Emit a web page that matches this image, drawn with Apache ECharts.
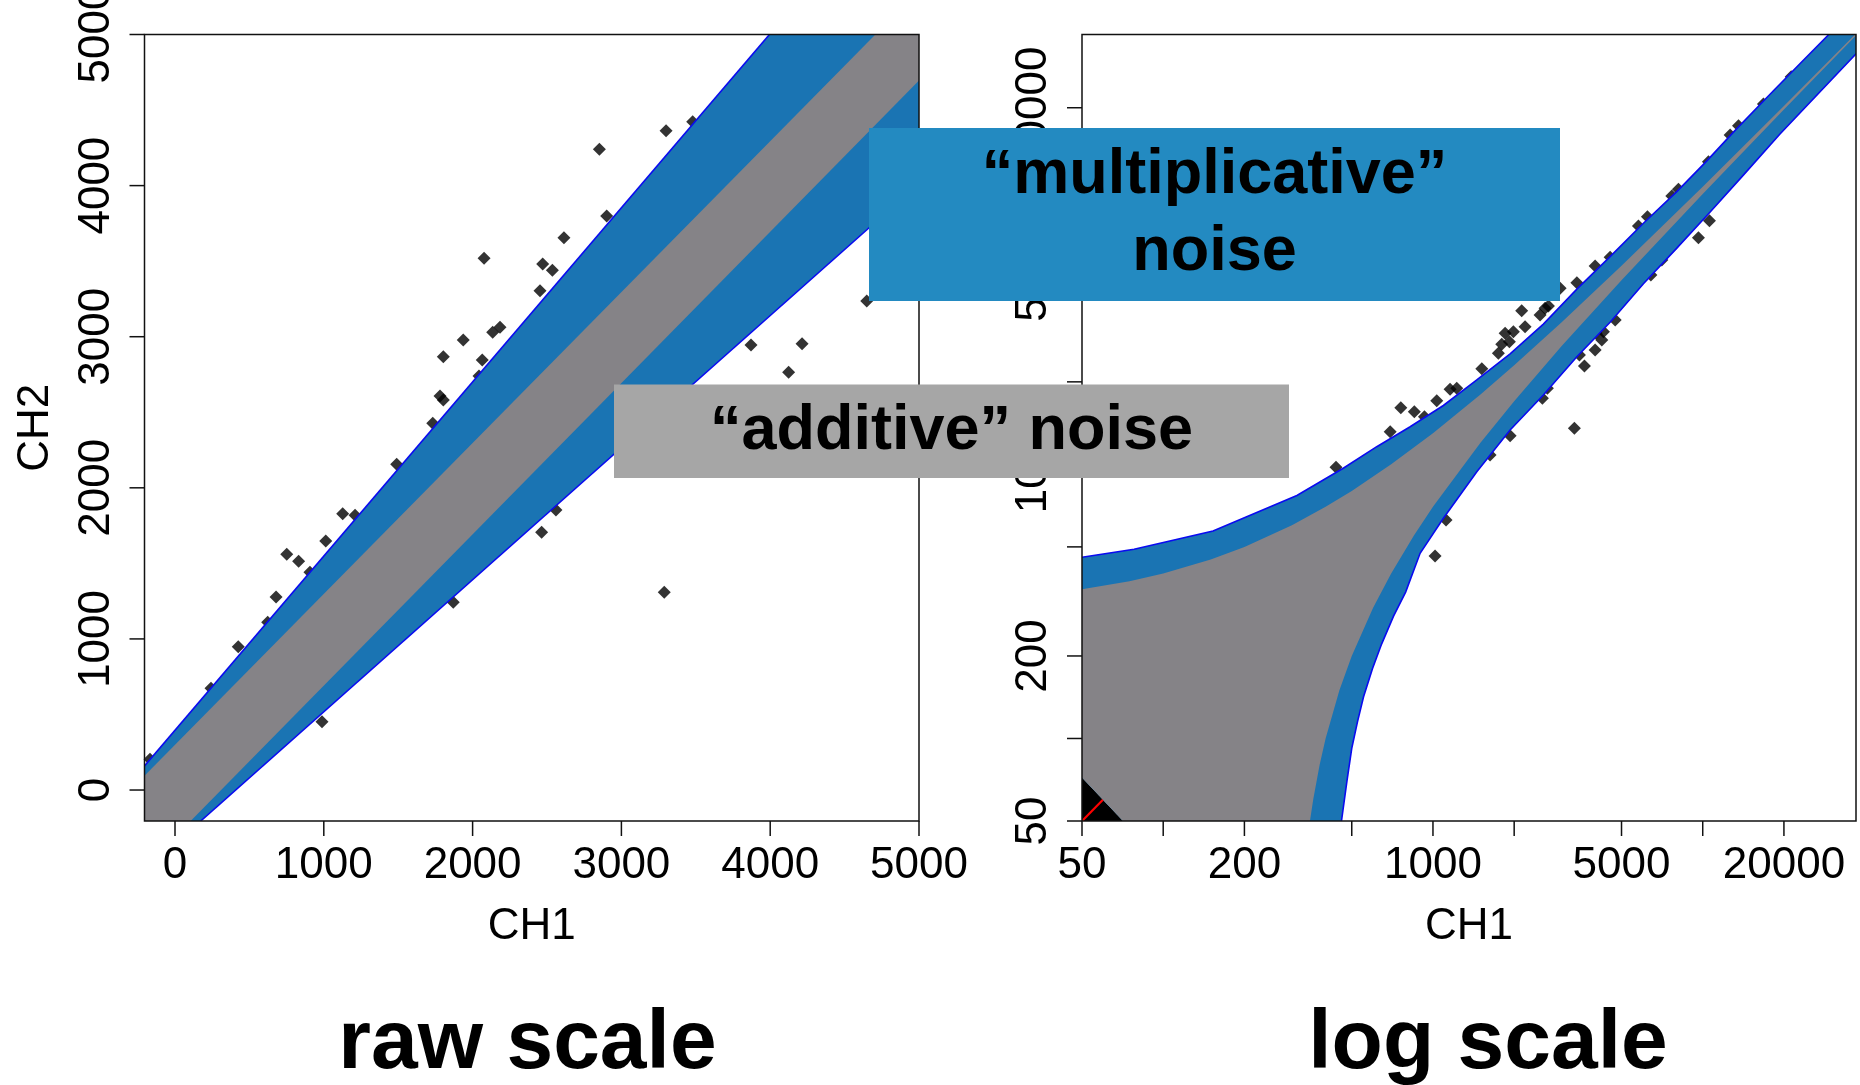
<!DOCTYPE html>
<html>
<head>
<meta charset="utf-8">
<script src="https://cdn.jsdelivr.net/npm/echarts@6/dist/echarts.min.js"></script>
<style>
  html, body { margin: 0; padding: 0; background: #ffffff; }
  #chart { width: 1860px; height: 1085px; }
</style>
</head>
<body>
<div id="chart"></div>
<script>
// ---------- data ----------
const rawRange = [-205, 5000];
const logRange = [50, 37000];
const rawTicks = [0, 1000, 2000, 3000, 4000, 5000];
const logTicks = [50, 100, 200, 500, 1000, 2000, 5000, 10000, 20000];
const logTickLabels = [50, 200, 1000, 5000, 20000];

// spots (CH1, CH2) on the raw scale
const rawPoints = [
  [-168, 203], [242, 673], [425, 948], [623, 1110], [679, 1277], [751, 1560], [831, 1514],
  [907, 1441], [1013, 1648], [1127, 1829], [1210, 1818], [988, 452], [1870, 1242],
  [2464, 1706], [2560, 1853], [1490, 2156], [1732, 2427], [1781, 2608], [1803, 2581],
  [2043, 2740], [2065, 2846], [1803, 2868], [1937, 2978], [2135, 3029], [2184, 3062],
  [2453, 3304], [2471, 3481], [2536, 3439], [2077, 3519], [2614, 3655], [2901, 3799],
  [2852, 4240], [3300, 4363], [3479, 4423], [4649, 3236], [3871, 2945], [4214, 2954],
  [4124, 2764], [3288, 1309]
];

// spots (CH1, CH2) on the log scale
const logPoints = [
  [437, 976], [694, 1316], [760, 1610], [853, 1557], [930, 1492], [1033, 1707], [1157, 1879],
  [1225, 1895], [1517, 2234], [1748, 2542], [1799, 2742], [1851, 3007], [1987, 3049],
  [2133, 3637], [2195, 3180], [2495, 3508], [2604, 3710], [2679, 3783], [1920, 2803],
  [2960, 4389], [3415, 4602], [3991, 5296], [4537, 5697], [5777, 7408], [6237, 8012],
  [7683, 9528], [8128, 10080],
  [1018, 463], [1932, 1272], [3344, 1354], [2545, 1742], [2656, 1895], [3491, 2507],
  [3643, 2286], [3991, 2614], [4226, 2843], [4285, 3049], [4024, 3007], [4736, 3363],
  [6424, 4909], [7054, 5568], [7683, 6194], [9641, 6715], [10590, 7745], [1628, 1082],
  [1118, 627],
  [29245, 34850], [21280, 25970], [19200, 23030], [16795, 20640], [13570, 17205],
  [12635, 15910], [10500, 12717]
];

// noise envelopes, raw scale (edge lines)
const rawGrayUpper = [[-205, 95], [4707, 5000]];
const rawGrayLower = [[105, -205], [5000, 4695]];
const rawBlueUpper = [[-205, 159], [3995, 5000]];
const rawBlueLower = [[173, -205], [5000, 4014]];

// noise envelopes, log scale (edge curves)
const logGrayUpper = [
  [50, 350], [75, 375], [100, 400], [150, 450], [200, 500], [300, 600], [400, 700],
  [500, 800], [700, 1000], [1000, 1300], [1500, 1800], [2000, 2300], [3000, 3300],
  [5000, 5300], [10000, 10300], [20000, 20300], [37000, 37300]
];
const logGrayLower = [
  [350, 50], [360, 60], [380, 80], [400, 100], [450, 150], [500, 200], [600, 300],
  [700, 400], [850, 550], [1000, 700], [1500, 1200], [2000, 1700], [3000, 2700],
  [5000, 4700], [10000, 9700], [20000, 19700], [37000, 36700]
];
const logBlueUpper = [
  [50, 458], [78, 490], [153, 571], [313, 770], [465, 968], [619, 1160], [823, 1372],
  [1093, 1640], [1454, 2032], [1932, 2530], [2566, 3250], [3415, 4360], [4536, 5724],
  [6028, 7581], [8016, 9884], [10358, 12800], [13000, 16300], [17290, 21800],
  [22970, 29000], [30530, 38500]
];
const logBlueLower = [
  [458, 50], [480, 70], [500, 92], [525, 115], [553, 142], [597, 180], [645, 221],
  [715, 280], [792, 342], [896, 474], [1093, 636], [1454, 940], [1932, 1335],
  [2566, 1791], [3415, 2470], [4536, 3300], [6028, 4560], [8016, 6150], [10655, 8330],
  [14200, 11400], [19300, 16000], [37300, 31700]
];
const logCornerCut = [[71, 50], [50, 72]];
const logCornerCluster = [[50, 50], [50, 72], [71, 50]];
const logIdentity = [[50, 50], [37000, 37000]];

// ---------- layout & style ----------
const FONT = '"Liberation Sans", Arial, Helvetica, sans-serif';
const gridRaw = { left: 144.5, top: 34.5, width: 774.5, height: 786.5 };
const gridLog = { left: 1082, top: 34.5, width: 774, height: 786.5 };
const BAND_BLUE = '#1a74b3';
const BAND_GRAY = '#858387';
const EDGE_BLUE = '#0a0af0';
const TICK_LEN = 15;
const TOP_Z = 100;

function closedBand(upper, corner1, lower, tail) {
  return upper.concat(corner1, lower.slice().reverse(), tail);
}

const rawBluePoly = closedBand(rawBlueUpper, [[rawRange[1], rawRange[1]]], rawBlueLower, [[rawRange[0], rawRange[0]]]);
const rawGrayPoly = closedBand(rawGrayUpper, [[rawRange[1], rawRange[1]]], rawGrayLower, [[rawRange[0], rawRange[0]]]);
const logBluePoly = closedBand(logBlueUpper, [[logRange[1], logRange[1]]], logBlueLower, logCornerCut);
const logGrayPoly = closedBand(logGrayUpper, [], logGrayLower, logCornerCut);

function shapeSeries(axisIdx, points, kind, style, z) {
  return {
    type: 'custom',
    coordinateSystem: 'cartesian2d',
    xAxisIndex: axisIdx,
    yAxisIndex: axisIdx,
    clip: true,
    silent: true,
    animation: false,
    z: z,
    data: [points[0].slice()],
    renderItem: function (params, api) {
      return {
        type: kind,
        shape: { points: points.map(function (p) { return api.coord(p); }) },
        style: style
      };
    }
  };
}

// outward tick marks along the bottom and left edges of a panel
function tickMarkSeries(axisIdx, range, xTicks, yTicks) {
  return {
    type: 'custom',
    coordinateSystem: 'cartesian2d',
    xAxisIndex: axisIdx,
    yAxisIndex: axisIdx,
    clip: false,
    silent: true,
    animation: false,
    z: 7,
    data: [[range[1], range[1]]],
    renderItem: function (params, api) {
      const cs = params.coordSys;
      const bottom = cs.y + cs.height;
      const left = cs.x;
      const children = [];
      xTicks.forEach(function (v) {
        const px = api.coord([v, range[0]])[0];
        children.push({ type: 'line', shape: { x1: px, y1: bottom, x2: px, y2: bottom + TICK_LEN },
          style: { stroke: '#111', lineWidth: 1.5 } });
      });
      yTicks.forEach(function (v) {
        const py = api.coord([range[0], v])[1];
        children.push({ type: 'line', shape: { x1: left - TICK_LEN, y1: py, x2: left, y2: py },
          style: { stroke: '#111', lineWidth: 1.5 } });
      });
      return { type: 'group', children: children };
    }
  };
}

function spotSeries(axisIdx, data) {
  return {
    type: 'scatter',
    xAxisIndex: axisIdx,
    yAxisIndex: axisIdx,
    data: data,
    symbol: 'diamond',
    symbolSize: 13,
    itemStyle: { color: '#000000' },
    silent: true,
    animation: false,
    z: 2
  };
}

const labelStyle = { color: '#000', fontSize: 44, fontFamily: FONT };
const nameStyle = { color: '#000', fontSize: 44, fontFamily: FONT };
const fmt = function (v) { return String(Math.round(v)); };

function xAxisDef(gridIndex, type, range, labels) {
  const a = {
    gridIndex: gridIndex, type: type, min: range[0], max: range[1], position: 'bottom',
    axisLine: { show: false, onZero: false }, splitLine: { show: false },
    axisTick: { show: false },
    axisLabel: Object.assign({ customValues: labels, margin: 23, formatter: fmt }, labelStyle),
    name: 'CH1', nameLocation: 'middle', nameGap: 84, nameTextStyle: nameStyle
  };
  if (type === 'log') a.logBase = 10;
  return a;
}
function yAxisDef(gridIndex, type, range, labels) {
  const a = {
    gridIndex: gridIndex, type: type, min: range[0], max: range[1], position: 'left',
    axisLine: { show: false, onZero: false }, splitLine: { show: false },
    axisTick: { show: false },
    axisLabel: Object.assign({ customValues: labels, margin: 26, rotate: 90, formatter: fmt }, labelStyle),
    name: 'CH2', nameLocation: 'middle', nameGap: 87, nameTextStyle: nameStyle
  };
  if (type === 'log') a.logBase = 10;
  return a;
}

function frame(g) {
  return {
    type: 'rect', z: 50, silent: true,
    shape: { x: g.left, y: g.top, width: g.width, height: g.height },
    style: { fill: null, stroke: '#111', lineWidth: 1.5 }
  };
}

const chart = echarts.init(document.getElementById('chart'), null, { renderer: 'canvas' });
chart.setOption({
  animation: false,
  backgroundColor: '#ffffff',
  grid: [
    Object.assign({ show: false, containLabel: false, outerBoundsMode: 'none' }, gridRaw),
    Object.assign({ show: false, containLabel: false, outerBoundsMode: 'none' }, gridLog)
  ],
  xAxis: [
    xAxisDef(0, 'value', rawRange, rawTicks),
    xAxisDef(1, 'log', logRange, logTickLabels)
  ],
  yAxis: [
    yAxisDef(0, 'value', rawRange, rawTicks),
    yAxisDef(1, 'log', logRange, logTickLabels)
  ],
  series: [
    // raw scale panel
    spotSeries(0, rawPoints),
    shapeSeries(0, rawBluePoly, 'polygon', { fill: BAND_BLUE }, 4),
    shapeSeries(0, rawGrayPoly, 'polygon', { fill: BAND_GRAY }, 5),
    shapeSeries(0, rawBlueUpper, 'polyline', { fill: null, stroke: EDGE_BLUE, lineWidth: 1.6 }, 6),
    shapeSeries(0, rawBlueLower, 'polyline', { fill: null, stroke: EDGE_BLUE, lineWidth: 1.6 }, 6),
    tickMarkSeries(0, rawRange, rawTicks, rawTicks),
    // log scale panel
    spotSeries(1, logPoints),
    shapeSeries(1, logCornerCluster, 'polygon', { fill: '#000000' }, 2),
    shapeSeries(1, logIdentity, 'polyline', { fill: null, stroke: '#ff0000', lineWidth: 2.2 }, 3),
    shapeSeries(1, logBluePoly, 'polygon', { fill: BAND_BLUE }, 4),
    shapeSeries(1, logGrayPoly, 'polygon', { fill: BAND_GRAY }, 5),
    shapeSeries(1, logBlueUpper, 'polyline', { fill: null, stroke: EDGE_BLUE, lineWidth: 1.6 }, 6),
    shapeSeries(1, logBlueLower, 'polyline', { fill: null, stroke: EDGE_BLUE, lineWidth: 1.6 }, 6),
    tickMarkSeries(1, logRange, logTicks, logTicks)
  ],
  graphic: [
    frame(gridRaw),
    frame(gridLog),
    { type: 'rect', z: TOP_Z, silent: true, shape: { x: 869, y: 128, width: 691, height: 173 }, style: { fill: '#238ac1' } },
    {
      type: 'text', z: TOP_Z + 1, silent: true, x: 1214.5, y: 214.5,
      style: {
        text: '\u201Cmultiplicative\u201D\nnoise', fill: '#000',
        font: 'bold 63px ' + FONT, lineHeight: 77, align: 'center', verticalAlign: 'middle'
      }
    },
    { type: 'rect', z: TOP_Z, silent: true, shape: { x: 614, y: 384.5, width: 675, height: 93.5 }, style: { fill: '#a6a6a6' } },
    {
      type: 'text', z: TOP_Z + 1, silent: true, x: 951.5, y: 431.5,
      style: {
        text: '\u201Cadditive\u201D noise', fill: '#000',
        font: 'bold 63px ' + FONT, align: 'center', verticalAlign: 'middle'
      }
    },
    {
      type: 'text', z: TOP_Z, silent: true, x: 527.5, y: 1045,
      style: { text: 'raw scale', fill: '#000', font: 'bold 84px ' + FONT, align: 'center', verticalAlign: 'middle' }
    },
    {
      type: 'text', z: TOP_Z, silent: true, x: 1488, y: 1045,
      style: { text: 'log scale', fill: '#000', font: 'bold 84px ' + FONT, align: 'center', verticalAlign: 'middle' }
    }
  ]
});
</script>
</body>
</html>
